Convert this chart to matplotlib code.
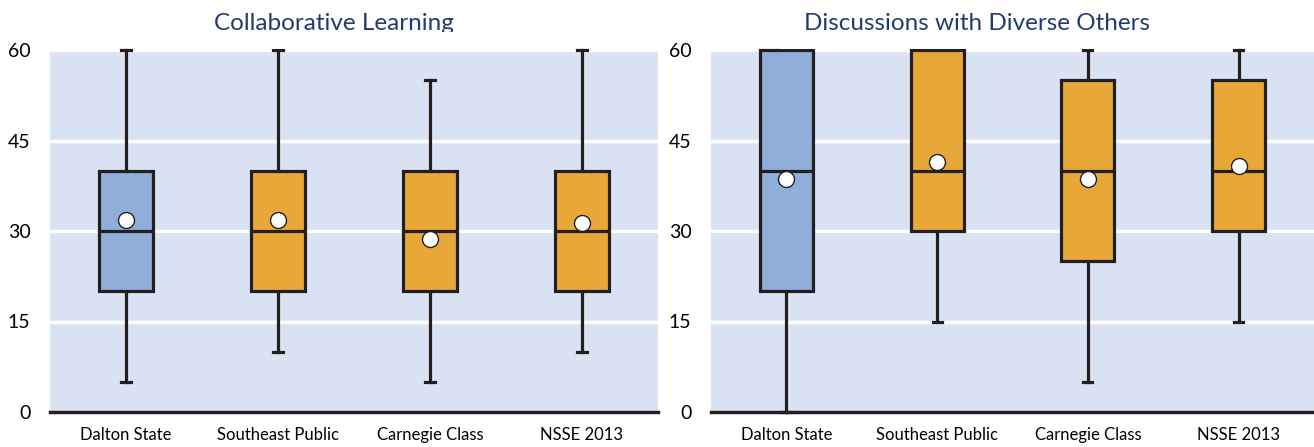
import matplotlib
matplotlib.use("Agg")
import matplotlib.pyplot as plt
from matplotlib.patches import Rectangle

plt.rcParams['font.family'] = ['Lato', 'DejaVu Sans']

categories = ['Dalton State', 'Southeast Public', 'Carnegie Class', 'NSSE 2013']
yticks = [0, 15, 30, 45, 60]

# Collaborative Learning
cl_low = [5, 10, 5, 10]
cl_q1 = [20, 20, 20, 20]
cl_med = [30, 30, 30, 30]
cl_q3 = [40, 40, 40, 40]
cl_high = [60, 60, 55, 60]
cl_mean = [31.8, 31.8, 28.6, 31.4]

# Discussions with Diverse Others
dd_low = [0, 15, 5, 15]
dd_q1 = [20, 30, 25, 30]
dd_med = [40, 40, 40, 40]
dd_q3 = [60, 60, 55, 55]
dd_high = [60, 60, 60, 60]
dd_mean = [38.6, 41.4, 38.6, 40.7]

BG = '#DAE3F3'
BLUE = '#8FAEDA'
ORANGE = '#E8A838'
EDGE = '#231F20'
TITLE_C = '#243B6B'

W, H = 1314, 447
fig = plt.figure(figsize=(W / 100, H / 100), dpi=100)


def px(x0, y0, x1, y1):
    return [x0 / W, 1 - y1 / H, (x1 - x0) / W, (y1 - y0) / H]


def panel(rect, lo, q1, med, q3, hi, mean):
    ax = fig.add_axes(rect)
    ax.set_facecolor(BG)
    stats = []
    for i, c in enumerate(categories):
        stats.append(dict(label=c, whislo=lo[i], q1=q1[i], med=med[i],
                          q3=q3[i], whishi=hi[i], mean=mean[i], fliers=[]))
    lw = 2.3
    bp = ax.bxp(stats, positions=range(len(categories)), widths=0.35,
                patch_artist=True, showmeans=True, capwidths=0.06,
                boxprops=dict(edgecolor=EDGE, linewidth=lw),
                medianprops=dict(color=EDGE, linewidth=lw),
                whiskerprops=dict(color=EDGE, linewidth=lw),
                capprops=dict(color=EDGE, linewidth=lw),
                meanprops=dict(marker='o', markerfacecolor='white',
                               markeredgecolor=EDGE, markersize=11.5,
                               markeredgewidth=1))
    for i, b in enumerate(bp['boxes']):
        b.set_facecolor(BLUE if i == 0 else ORANGE)
    for k in ('whiskers', 'caps'):
        for a in bp[k]:
            a.set_zorder(1.5)
            a.set_clip_on(False)
    for b in bp['boxes']:
        b.set_zorder(2)
        b.set_clip_on(False)
    for a in bp['medians']:
        a.set_zorder(2.5)
    for a in bp['means']:
        a.set_zorder(3)
    ax.set_ylim(0, 60)
    ax.set_xlim(-0.5, 3.5)
    ax.set_yticks(yticks)
    ax.set_yticklabels([str(v) for v in yticks], fontsize=14)
    ax.set_axisbelow(True)
    ax.yaxis.grid(True, color='white', linewidth=2.5)
    ax.tick_params(axis='y', length=0, pad=14)
    ax.tick_params(axis='x', length=0, pad=11, labelsize=12)
    ax.set_xticks(range(len(categories)))
    ax.set_xticklabels(categories)
    for s in ('left', 'right', 'top'):
        ax.spines[s].set_visible(False)
    ax.spines['bottom'].set_color(EDGE)
    ax.spines['bottom'].set_linewidth(2.5)
    ax.spines['bottom'].set_zorder(4)
    return ax


ax1 = panel(px(50, 50, 658, 412), cl_low, cl_q1, cl_med, cl_q3, cl_high, cl_mean)
ax2 = panel(px(711, 50, 1314, 412), dd_low, dd_q1, dd_med, dd_q3, dd_high, dd_mean)

fig.text(334 / W, 1 - 29.5 / H, 'Collaborative Learning', ha='center',
         va='baseline', fontsize=17.5, color=TITLE_C, zorder=3)
fig.text(977 / W, 1 - 29.5 / H, 'Discussions with Diverse Others', ha='center',
         va='baseline', fontsize=17.5, color=TITLE_C, zorder=3)
# the titles are cut off at the bottom in the original
for x0, x1 in ((150, 520), (780, 1180)):
    fig.patches.append(Rectangle((x0 / W, 1 - 49 / H), (x1 - x0) / W, 17 / H,
                                 transform=fig.transFigure, facecolor='white',
                                 edgecolor='none', zorder=3.5))

fig.savefig('out.png', dpi=100)
